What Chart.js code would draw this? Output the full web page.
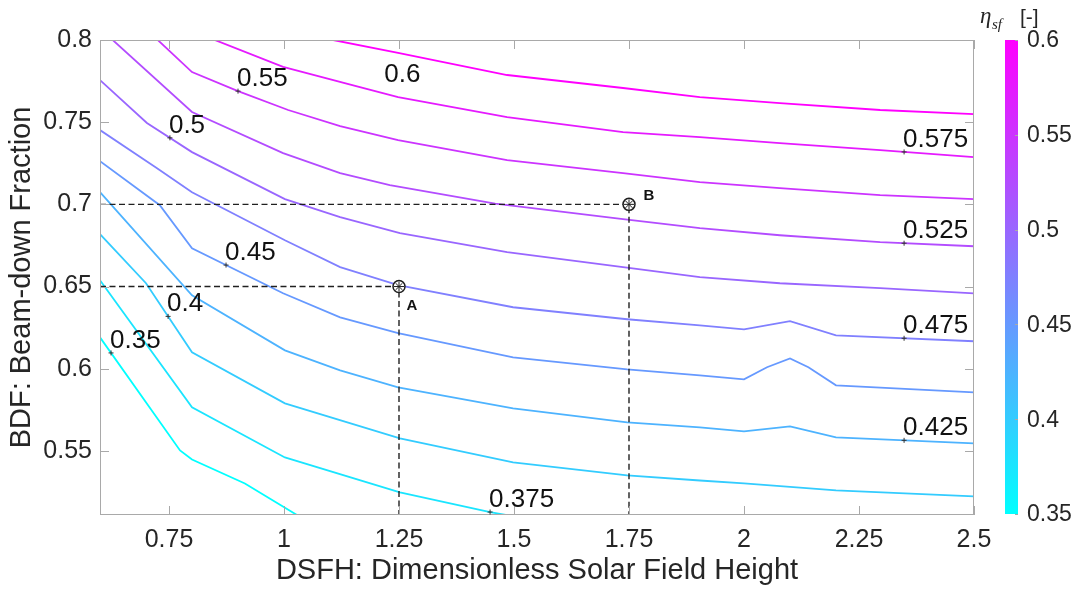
<!DOCTYPE html>
<html>
<head>
<meta charset="utf-8">
<script src="https://cdn.jsdelivr.net/npm/chart.js@4.4.1/dist/chart.umd.min.js"></script>
<style>
  html, body { margin: 0; padding: 0; background: #ffffff; }
  #wrap { width: 1076px; height: 594px; position: relative; }
</style>
</head>
<body>
<div id="wrap"><canvas id="chart" width="1076" height="594"></canvas></div>
<script>
// Iso-efficiency contours of the solar field, eta_sf, over DSFH (x) and BDF (y).
// Each contour is a list of [DSFH, BDF] vertices.
const levels = [0.35, 0.375, 0.4, 0.425, 0.45, 0.475, 0.5, 0.525, 0.55, 0.575, 0.6];

const eta350 = [[0.6,0.6191],[0.774,0.5503],[0.8,0.5448],[0.915,0.5302],[1.03,0.5107],[1.15,0.491]];
const eta375 = [[0.6,0.6538],[0.8,0.5765],[1.002,0.546],[1.252,0.5247],[1.448,0.5128],[1.509,0.5097],[1.7,0.501]];
const eta400 = [[0.6,0.6819],[0.7,0.652],[0.8,0.61],[1.002,0.5789],[1.252,0.5576],[1.498,0.543],[1.746,0.5351],[1.904,0.532],[2.0,0.5302],[2.2,0.526],[2.5,0.5223]];
const eta425 = [[0.6,0.7074],[0.8,0.6447],[1.002,0.6112],[1.122,0.599],[1.248,0.5887],[1.498,0.5759],[1.746,0.5674],[1.904,0.5643],[2.0,0.5619],[2.1,0.5649],[2.2,0.5582],[2.5,0.5546]];
const eta450 = [[0.6,0.7263],[0.73,0.6995],[0.8,0.6733],[0.998,0.6459],[1.122,0.6313],[1.248,0.6216],[1.498,0.6069],[1.746,0.5996],[1.904,0.596],[2.0,0.5935],[2.05,0.6009],[2.1,0.6063],[2.14,0.6009],[2.2,0.5899],[2.5,0.5856]];
const eta475 = [[0.6,0.7452],[0.724,0.722],[0.8,0.7074],[1.002,0.6782],[1.122,0.6618],[1.248,0.6508],[1.498,0.6374],[1.746,0.6301],[1.904,0.6264],[2.0,0.624],[2.1,0.6289],[2.2,0.6203],[2.5,0.6167]];
const eta500 = [[0.6,0.7756],[0.702,0.7495],[0.8,0.7318],[1.002,0.7032],[1.122,0.6922],[1.252,0.6825],[1.485,0.6709],[1.737,0.6618],[1.904,0.6557],[2.078,0.652],[2.296,0.649],[2.5,0.6459]];
const eta525 = [[0.6,0.807],[0.8,0.7562],[0.998,0.7312],[1.122,0.719],[1.23,0.7117],[1.459,0.7005],[1.737,0.691],[1.904,0.6855],[2.078,0.6812],[2.296,0.677],[2.5,0.6745]];
const eta550 = [[0.7,0.8067],[0.8,0.7805],[0.9,0.7689],[1.009,0.7574],[1.122,0.7476],[1.248,0.7391],[1.485,0.7269],[1.737,0.719],[1.904,0.7135],[2.078,0.7099],[2.296,0.7056],[2.5,0.7032]];
const eta575 = [[0.8,0.8055],[0.998,0.7836],[1.165,0.7714],[1.248,0.7653],[1.485,0.7531],[1.737,0.744],[1.904,0.7409],[2.078,0.7373],[2.296,0.733],[2.5,0.7287]];
const eta600 = [[1.0,0.806],[1.107,0.8],[1.248,0.7921],[1.485,0.7787],[1.737,0.7708],[1.904,0.7653],[2.078,0.7616],[2.296,0.7574],[2.5,0.7549]];

const contours = [eta350, eta375, eta400, eta425, eta450, eta475, eta500, eta525, eta550, eta575, eta600];

// DSFH position of each inline level label (marker sits on its contour)
const labelX = [0.624, 1.448, 0.748, 2.348, 0.874, 2.348, 0.752, 2.348, 0.9, 2.348, 1.22];

// design points
const pointNames = ['A', 'B'];
const pointDSFH = [1.25, 1.75];
const pointBDF = [0.65, 0.70];

// axes
const xRange = [0.6, 2.5];
const yRange = [0.511, 0.8];
const xTicks = [0.75, 1, 1.25, 1.5, 1.75, 2, 2.25, 2.5];
const yTicks = [0.55, 0.6, 0.65, 0.7, 0.75, 0.8];
const barTicks = [0.35, 0.4, 0.45, 0.5, 0.55, 0.6];
const etaRange = [0.35, 0.6];

const FONT = "'Liberation Sans', Arial, Helvetica, sans-serif";
const INK = '#262626';
const AXIS = '#a9a9a9';

// MATLAB "cool" colormap: cyan -> magenta
function cool(v) {
  const t = Math.max(0, Math.min(1, (v - etaRange[0]) / (etaRange[1] - etaRange[0])));
  return `rgb(${Math.round(255 * t)},${Math.round(255 * (1 - t))},255)`;
}
const fmt = v => String(+v.toFixed(3));

function interpY(pts, x) {
  for (let i = 0; i < pts.length - 1; i++) {
    const [x0, y0] = pts[i], [x1, y1] = pts[i + 1];
    if (x >= x0 && x <= x1) return y0 + (y1 - y0) * (x - x0) / (x1 - x0);
  }
  return pts[pts.length - 1][1];
}

const datasets = [];

// marker rings and asterisks for A/B
const designPts = pointDSFH.map((x, i) => ({ x, y: pointBDF[i] }));
datasets.push({
  data: designPts, showLine: false, pointStyle: 'star', pointRadius: 5,
  borderColor: '#1e1e1e', borderWidth: 1, backgroundColor: '#1e1e1e', order: 0
});
datasets.push({
  data: designPts, showLine: false, pointStyle: 'circle', pointRadius: 6,
  borderColor: '#1e1e1e', borderWidth: 1.5, backgroundColor: '#ffffff', order: 1
});

// dashed read-off lines from each design point to the axes
designPts.forEach(p => {
  datasets.push({
    data: [{ x: xRange[0], y: p.y }, { x: p.x, y: p.y }, { x: p.x, y: yRange[0] }],
    showLine: true, pointRadius: 0, borderColor: '#202020', borderWidth: 1.4,
    borderDash: [6, 3.5], order: 2
  });
});

contours.forEach((pts, i) => {
  datasets.push({
    label: fmt(levels[i]),
    data: pts.map(([x, y]) => ({ x, y })),
    showLine: true, pointRadius: 0, borderColor: cool(levels[i]),
    borderWidth: 1.8, tension: 0, order: 3
  });
});

// plot box with inward tick marks
const boxPlugin = {
  id: 'box',
  afterDatasetsDraw(chart) {
    const { ctx, chartArea: a, scales: { x, y } } = chart;
    ctx.save();
    ctx.strokeStyle = AXIS;
    ctx.lineWidth = 1;
    ctx.strokeRect(a.left + 0.5, a.top + 0.5, a.right - a.left - 1, a.bottom - a.top - 1);
    ctx.beginPath();
    xTicks.forEach(v => {
      const px = Math.round(x.getPixelForValue(v)) + 0.5;
      ctx.moveTo(px, a.bottom); ctx.lineTo(px, a.bottom - 9);
      ctx.moveTo(px, a.top); ctx.lineTo(px, a.top + 9);
    });
    yTicks.forEach(v => {
      const py = Math.round(y.getPixelForValue(v)) + 0.5;
      ctx.moveTo(a.left, py); ctx.lineTo(a.left + 9, py);
      ctx.moveTo(a.right, py); ctx.lineTo(a.right - 9, py);
    });
    ctx.stroke();
    ctx.restore();
  }
};

// contour level labels, design point names, colour bar
const annotatePlugin = {
  id: 'annotate',
  afterDraw(chart) {
    const { ctx, chartArea: a, scales: { x, y } } = chart;
    ctx.save();
    // level labels
    ctx.font = `26px ${FONT}`;
    ctx.fillStyle = '#111111';
    ctx.textAlign = 'left';
    ctx.textBaseline = 'alphabetic';
    levels.forEach((lv, i) => {
      const lx = labelX[i];
      const ly = interpY(contours[i], lx);
      const px = x.getPixelForValue(lx);
      const py = y.getPixelForValue(ly);
      const top = lv === 0.6;
      if (!top) {
        ctx.strokeStyle = '#333333';
        ctx.lineWidth = 1;
        ctx.beginPath();
        ctx.moveTo(px - 2.5, py); ctx.lineTo(px + 2.5, py);
        ctx.moveTo(px, py - 2.5); ctx.lineTo(px, py + 2.5);
        ctx.stroke();
      }
      ctx.fillText(fmt(lv), px - 1, top ? py + 32 : py - 5);
    });

    // design point names
    ctx.font = `bold 15px ${FONT}`;
    ctx.fillStyle = '#111111';
    ctx.textAlign = 'center';
    ctx.textBaseline = 'middle';
    pointNames.forEach((n, i) => {
      const px = x.getPixelForValue(pointDSFH[i]);
      const py = y.getPixelForValue(pointBDF[i]);
      if (n === 'A') ctx.fillText(n, px + 13, py + 19);
      else ctx.fillText(n, px + 20, py - 9);
    });

    // colour bar
    const bl = a.right + 31, bw = 13, bt = a.top, bb = a.bottom - 1;
    const g = ctx.createLinearGradient(0, bb, 0, bt);
    g.addColorStop(0, cool(etaRange[0]));
    g.addColorStop(1, cool(etaRange[1]));
    ctx.fillStyle = g;
    ctx.fillRect(bl, bt, bw, bb - bt);
    ctx.font = `23px ${FONT}`;
    ctx.fillStyle = INK;
    ctx.textAlign = 'left';
    ctx.textBaseline = 'middle';
    ctx.strokeStyle = AXIS;
    ctx.lineWidth = 1;
    barTicks.forEach(v => {
      const py = bb - (v - etaRange[0]) / (etaRange[1] - etaRange[0]) * (bb - bt);
      ctx.beginPath();
      ctx.moveTo(bl + bw - 3, Math.round(py) + 0.5); ctx.lineTo(bl + bw, Math.round(py) + 0.5);
      ctx.stroke();
      ctx.fillText(fmt(v), bl + 22, py + 1);
    });

    // colour bar title: eta_sf [-]
    ctx.textBaseline = 'alphabetic';
    ctx.fillStyle = INK;
    ctx.font = `italic 23px 'Liberation Serif', 'DejaVu Serif', serif`;
    ctx.fillText('\u03B7', bl - 25, 23);
    ctx.font = `italic 15px 'Liberation Serif', 'DejaVu Serif', serif`;
    ctx.fillText('sf', bl - 13, 29);
    ctx.font = `21px ${FONT}`;
    ctx.fillText('[-]', bl + 15, 24);
    ctx.restore();
  }
};

new Chart(document.getElementById('chart'), {
  type: 'scatter',
  data: { datasets },
  options: {
    responsive: false,
    animation: false,
    events: [],
    layout: { padding: { top: 40, right: 102, left: 0, bottom: 0 } },
    plugins: { legend: { display: false }, tooltip: { enabled: false } },
    scales: {
      x: {
        type: 'linear', min: xRange[0], max: xRange[1],
        grid: { display: false, drawTicks: false },
        border: { display: false },
        afterBuildTicks: s => { s.ticks = xTicks.map(v => ({ value: v })); },
        afterFit: s => { s.height = 79; },
        ticks: { font: { family: FONT, size: 25 }, color: INK, padding: 10, maxRotation: 0, autoSkip: false, callback: v => fmt(v) },
        title: { display: true, text: 'DSFH: Dimensionless Solar Field Height', color: INK,
                 font: { family: FONT, size: 29 }, padding: { top: 0, bottom: 6 } }
      },
      y: {
        type: 'linear', min: yRange[0], max: yRange[1],
        grid: { display: false, drawTicks: false },
        border: { display: false },
        afterBuildTicks: s => { s.ticks = yTicks.map(v => ({ value: v })); },
        afterFit: s => { s.width = 100; },
        ticks: { font: { family: FONT, size: 25 }, color: INK, padding: 8, autoSkip: false, callback: v => fmt(v) },
        title: { display: true, text: 'BDF: Beam-down Fraction', color: INK,
                 font: { family: FONT, size: 29 }, padding: { top: 5, bottom: 0 } }
      }
    }
  },
  plugins: [boxPlugin, annotatePlugin]
});
</script>
</body>
</html>
